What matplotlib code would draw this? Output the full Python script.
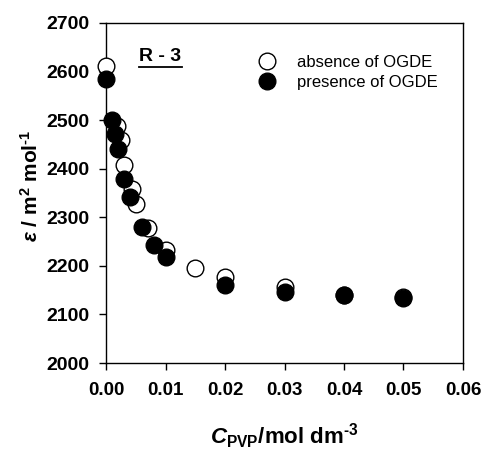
import numpy as np
import matplotlib
matplotlib.use('Agg')
from matplotlib import pyplot as plt
from matplotlib.lines import Line2D

# absence of OGDE (open circles)
c_abs = [0.0, 0.0018, 0.0025, 0.003, 0.0043, 0.005, 0.007, 0.010, 0.015, 0.020, 0.030, 0.040, 0.050]
eps_abs = [2611, 2487, 2459, 2408, 2358, 2328, 2278, 2233, 2195, 2177, 2157, 2141, 2136]
# presence of OGDE (filled circles)
c_pres = [0.0, 0.001, 0.0015, 0.002, 0.003, 0.004, 0.006, 0.008, 0.010, 0.020, 0.030, 0.040, 0.050]
eps_pres = [2585, 2500, 2472, 2440, 2379, 2342, 2281, 2242, 2219, 2161, 2146, 2141, 2133]

xticks = [0.00, 0.01, 0.02, 0.03, 0.04, 0.05, 0.06]
yticks = [2000, 2100, 2200, 2300, 2400, 2500, 2600, 2700]

plt.rcParams['font.family'] = ['Liberation Sans', 'DejaVu Sans']
plt.rcParams['mathtext.fontset'] = 'custom'
plt.rcParams['mathtext.rm'] = 'Liberation Sans:bold'
plt.rcParams['mathtext.bf'] = 'Liberation Sans:bold'
plt.rcParams['mathtext.it'] = 'Liberation Sans:italic:bold'

fig = plt.figure(figsize=(4.85, 4.5), dpi=100)
ax = fig.add_axes([0.2186, 0.1933, 0.736, 0.7556])

ax.plot(c_abs, eps_abs, 'o', ms=12, mfc='white', mec='black', mew=1.0,
        label='absence of OGDE', clip_on=False, zorder=3)
ax.plot(c_pres, eps_pres, 'o', ms=12, mfc='black', mec='black', mew=1.0,
        label='presence of OGDE', clip_on=False, zorder=4)

ax.set_xlim(0, 0.06)
ax.set_ylim(2000, 2700)
ax.set_xticks(xticks)
ax.set_yticks(yticks)
ax.set_xticklabels(['%.2f' % v for v in xticks], fontsize=13.5, fontweight='bold')
ax.set_yticklabels([str(v) for v in yticks], fontsize=14, fontweight='bold')
ax.tick_params(direction='out', length=5, width=1)
ax.tick_params(axis='x', pad=9)
ax.tick_params(axis='y', pad=7)
for s in ax.spines.values():
    s.set_linewidth(1.0)

ax.set_xlabel(r'$C_{\mathrm{PVP}}$/mol dm$^{\text{-}3}$', fontsize=16, fontweight='bold')
ax.set_ylabel(r'$\varepsilon$ / m$^{2}$ mol$^{\text{-}1}$', fontsize=15, fontweight='bold')
ax.xaxis.set_label_coords(0.5, -0.172)
ax.yaxis.set_label_coords(-0.18, 0.52)

leg = ax.legend(loc='upper left', bbox_to_anchor=(0.428, 0.906), frameon=False,
                fontsize=12, handlelength=1.0, handletextpad=1.3, labelspacing=0.3,
                borderpad=0, borderaxespad=0)

ax.text(0.092, 0.888, 'R - 3', transform=ax.transAxes, fontsize=14, fontweight='bold')
ax.add_line(Line2D([0.092, 0.213], [0.872, 0.872], transform=ax.transAxes,
                   color='black', lw=1.3))

fig.savefig('out.png', dpi=100)
